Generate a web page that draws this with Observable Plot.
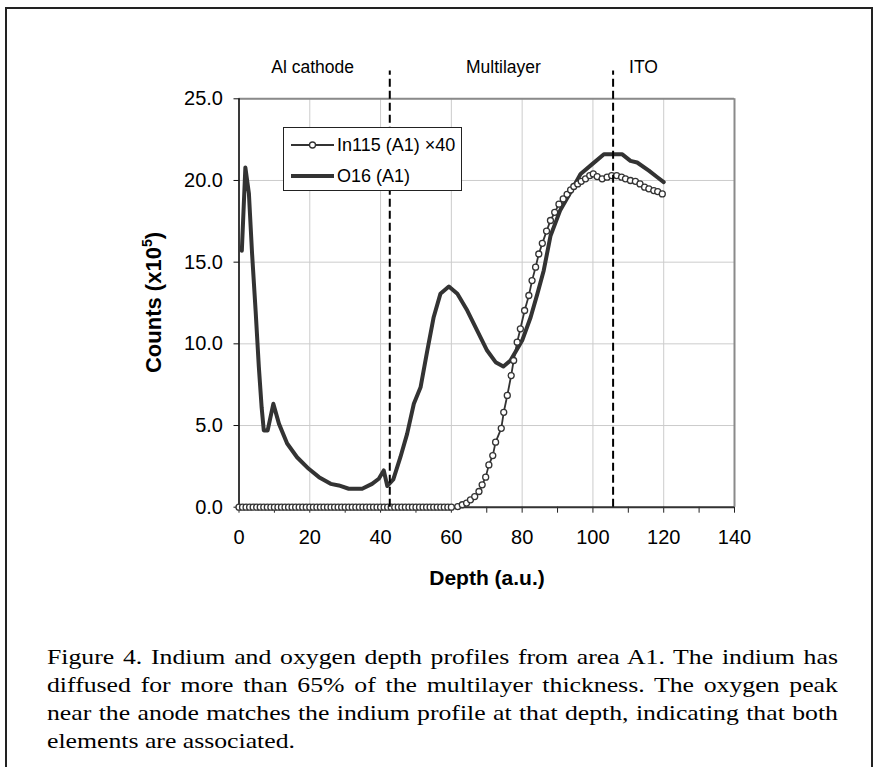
<!DOCTYPE html>
<html>
<head>
<meta charset="utf-8">
<script src="https://cdn.jsdelivr.net/npm/d3@7"></script>
<script src="https://cdn.jsdelivr.net/npm/@observablehq/plot@0.6"></script>
<style>
html, body { margin: 0; padding: 0; background: #fff; width: 877px; height: 767px; overflow: hidden; }
#frame { position: absolute; left: 5px; top: 7px; width: 868px; height: 820px; border: 2px solid #222; box-sizing: border-box; }
#chart { position: absolute; left: 0; top: 0; }
#legend { position: absolute; left: 283px; top: 127px; width: 179px; height: 64px; border: 1.5px solid #222; background: #fff; box-sizing: border-box; }
#legend svg { position: absolute; left: 0; top: 0; }
#caption { position: absolute; left: 47px; top: 643px; width: 676px; font-family: "Liberation Serif", "Times New Roman", serif; font-size: 22px; line-height: 28px; color: #000; transform: scaleX(1.17); transform-origin: 0 0; }
#caption .jl { text-align: justify; text-align-last: justify; }
</style>
</head>
<body>
<div id="frame"></div>
<div id="chart"></div>
<div id="legend"></div>
<div id="caption"></div>
<script>
// ---- data ----
const o16Depth = [0.8, 1.8, 2.8, 3.7, 4.7, 5.6, 6.4, 7.0, 8.1, 9.7, 11.3, 13.6, 16.4, 19.7, 22.6, 25.9, 28.2, 31.0, 34.8, 37.6, 39.5, 40.9, 41.9, 43.6, 45.6, 47.5, 49.4, 51.3, 53.2, 55.0, 56.9, 59.3, 61.7, 64.5, 67.3, 70.1, 72.5, 74.7, 76.7, 78.6, 80.0, 82.4, 84.3, 86.1, 88.0, 90.8, 93.7, 96.5, 99.8, 103.1, 108.3, 110.6, 112.5, 115.8, 118.2, 120.0];
const o16Value = [15.7, 20.8, 19.2, 15.5, 12.0, 8.6, 6.1, 4.7, 4.7, 6.33, 5.1, 3.9, 3.06, 2.35, 1.84, 1.43, 1.33, 1.13, 1.13, 1.43, 1.74, 2.25, 1.3, 1.7, 3.06, 4.49, 6.33, 7.34, 9.59, 11.63, 13.06, 13.51, 13.06, 12.04, 10.81, 9.59, 8.88, 8.61, 8.98, 9.69, 10.2, 11.63, 13.06, 14.49, 16.6, 18.2, 19.3, 20.4, 21.0, 21.6, 21.6, 21.2, 21.1, 20.6, 20.2, 19.9];

const in115Depth = [0, 1, 2, 3, 4, 5, 6, 7, 8, 9, 10, 11, 12, 13, 14, 15, 16, 17, 18, 19, 20, 21, 22, 23, 24, 25, 26, 27, 28, 29, 30, 31, 32, 33, 34, 35, 36, 37, 38, 39, 40, 41, 42, 43, 44, 45, 46, 47, 48, 49, 50, 51, 52, 53, 54, 55, 56, 57, 58, 59, 60, 61.8, 63.1, 64.3, 65.4, 66.6, 67.8, 68.7, 69.7, 70.6, 71.7, 72.5, 74.1, 74.8, 75.8, 76.9, 77.6, 78.6, 79.5, 80.7, 81.9, 82.8, 83.8, 84.7, 85.7, 86.9, 88.0, 89.2, 90.4, 91.6, 92.7, 93.7, 94.6, 95.7, 96.7, 97.9, 99.1, 100.1, 101.2, 102.6, 104.0, 105.3, 106.7, 108.1, 109.2, 110.6, 112.0, 113.3, 114.6, 115.8, 117.2, 118.3, 119.6];
const in115Value = [0, 0, 0, 0, 0, 0, 0, 0, 0, 0, 0, 0, 0, 0, 0, 0, 0, 0, 0, 0, 0, 0, 0, 0, 0, 0, 0, 0, 0, 0, 0, 0, 0, 0, 0, 0, 0, 0, 0, 0, 0, 0, 0, 0, 0, 0, 0, 0, 0, 0, 0, 0, 0, 0, 0, 0, 0, 0, 0, 0, 0, 0.04, 0.15, 0.25, 0.45, 0.65, 0.96, 1.37, 1.84, 2.59, 3.16, 3.98, 4.83, 5.81, 6.84, 8.06, 8.98, 10.1, 10.92, 12.04, 12.96, 13.87, 14.69, 15.5, 16.15, 16.9, 17.55, 18.05, 18.55, 18.87, 19.15, 19.42, 19.63, 19.79, 19.95, 20.1, 20.3, 20.4, 20.24, 20.1, 20.2, 20.3, 20.3, 20.2, 20.1, 20.0, 19.95, 19.79, 19.59, 19.49, 19.38, 19.32, 19.18];

const xMajorTicks = [0, 20, 40, 60, 80, 100, 120, 140];
const xAllTicks = [0, 10, 20, 30, 40, 50, 60, 70, 80, 90, 100, 110, 120, 130, 140];
const yTicks = [0, 5, 10, 15, 20, 25];
const dividerDepths = [42.6, 105.7];
const dividerTop = 26.7;
const regionNames = ["Al cathode", "Multilayer", "ITO"];
const regionDepths = [20.8, 74.7, 114.3];
const regionLabelLevel = 26.9;
const seriesNames = ["In115 (A1) \u00d740", "O16 (A1)"];
const captionLines = [
  "Figure 4. Indium and oxygen depth profiles from area A1. The indium has",
  "diffused for more than 65% of the multilayer thickness. The oxygen peak",
  "near the anode matches the indium profile at that depth, indicating that both",
  "elements are associated."
];

// ---- build tables ----
const o16 = o16Depth.map((d, i) => ({depth: d, value: o16Value[i]}));
const in115 = in115Depth.map((d, i) => ({depth: d, value: in115Value[i]}));
const regions = regionNames.map((n, i) => ({name: n, depth: regionDepths[i], level: regionLabelLevel}));

const ink = "#333";
const chart = Plot.plot({
  width: 877,
  height: 610,
  marginLeft: 238.5,
  marginRight: 143,
  marginTop: 98.3,
  marginBottom: 103.3,
  x: {domain: [0, 140]},
  y: {domain: [0, 25]},
  style: {fontFamily: "'Liberation Sans', Arial, sans-serif", fontSize: "20px", color: "#000", background: "transparent", overflow: "visible"},
  marks: [
    Plot.gridX(xMajorTicks, {stroke: "#cccccc", strokeOpacity: 1, strokeWidth: 1}),
    Plot.gridY(yTicks, {stroke: "#cccccc", strokeOpacity: 1, strokeWidth: 1}),
    Plot.ruleY([25], {stroke: "#8a8a8a", strokeWidth: 2}),
    Plot.ruleX([140], {stroke: "#8a8a8a", strokeWidth: 2}),
    Plot.axisY(yTicks, {tickSize: 5, tickPadding: 11, tickFormat: d3.format(".1f"), label: null, stroke: "#111", fontSize: 20}),
    Plot.axisX(xAllTicks, {tickSize: 6, tickPadding: 17, tickFormat: d => xMajorTicks.includes(d) ? String(d) : "", label: null, stroke: "#222", fontSize: 20}),
    Plot.ruleX([0], {stroke: "#000", strokeWidth: 1.5}),
    Plot.ruleY([0], {stroke: "#333", strokeWidth: 2}),
    Plot.line(o16, {x: "depth", y: "value", stroke: ink, strokeWidth: 4, strokeLinejoin: "round"}),
    Plot.line(in115, {x: "depth", y: "value", stroke: ink, strokeWidth: 1.8}),
    Plot.dot(in115, {x: "depth", y: "value", r: 3, fill: "#fff", stroke: ink, strokeWidth: 1.3}),
    Plot.ruleX(dividerDepths, {y1: 0, y2: dividerTop, stroke: "#000", strokeWidth: 2, strokeDasharray: "8,4"}),
    Plot.text(regions, {x: "depth", y: "level", text: "name", fontSize: 17.5, fill: "#000"})
  ]
});
document.getElementById("chart").appendChild(chart);

// axis titles
const svg = d3.select(chart);
svg.append("text")
  .attr("x", 487).attr("y", 585)
  .attr("text-anchor", "middle")
  .attr("font-family", "'Liberation Sans', Arial, sans-serif")
  .attr("font-size", 21).attr("font-weight", "bold").attr("fill", "#000")
  .text("Depth (a.u.)");
const yt = svg.append("text")
  .attr("transform", "translate(161,302.5) rotate(-90)")
  .attr("text-anchor", "middle")
  .attr("font-family", "'Liberation Sans', Arial, sans-serif")
  .attr("font-size", 22).attr("font-weight", "bold").attr("fill", "#000");
yt.append("tspan").text("Counts (x10");
yt.append("tspan").attr("dy", -9).attr("font-size", 14).text("5");
yt.append("tspan").attr("dy", 9).text(")");

// legend
const leg = d3.select("#legend").append("svg").attr("width", 179).attr("height", 64)
  .attr("font-family", "'Liberation Sans', Arial, sans-serif").attr("font-size", 18);
const rowsY = [17, 48];
leg.append("line").attr("x1", 7).attr("x2", 50).attr("y1", rowsY[0]).attr("y2", rowsY[0]).attr("stroke", ink).attr("stroke-width", 2);
leg.append("circle").attr("cx", 28.5).attr("cy", rowsY[0]).attr("r", 3).attr("fill", "#fff").attr("stroke", ink).attr("stroke-width", 1.3);
leg.append("line").attr("x1", 7).attr("x2", 50).attr("y1", rowsY[1]).attr("y2", rowsY[1]).attr("stroke", ink).attr("stroke-width", 4);
seriesNames.forEach((n, i) => {
  leg.append("text").attr("x", 53).attr("y", rowsY[i]).attr("dy", "0.35em").attr("fill", "#000").text(n);
});

// caption
const cap = d3.select("#caption");
captionLines.forEach((t, i) => {
  cap.append("div").attr("class", i < captionLines.length - 1 ? "jl" : "").text(t);
});
</script>
</body>
</html>
